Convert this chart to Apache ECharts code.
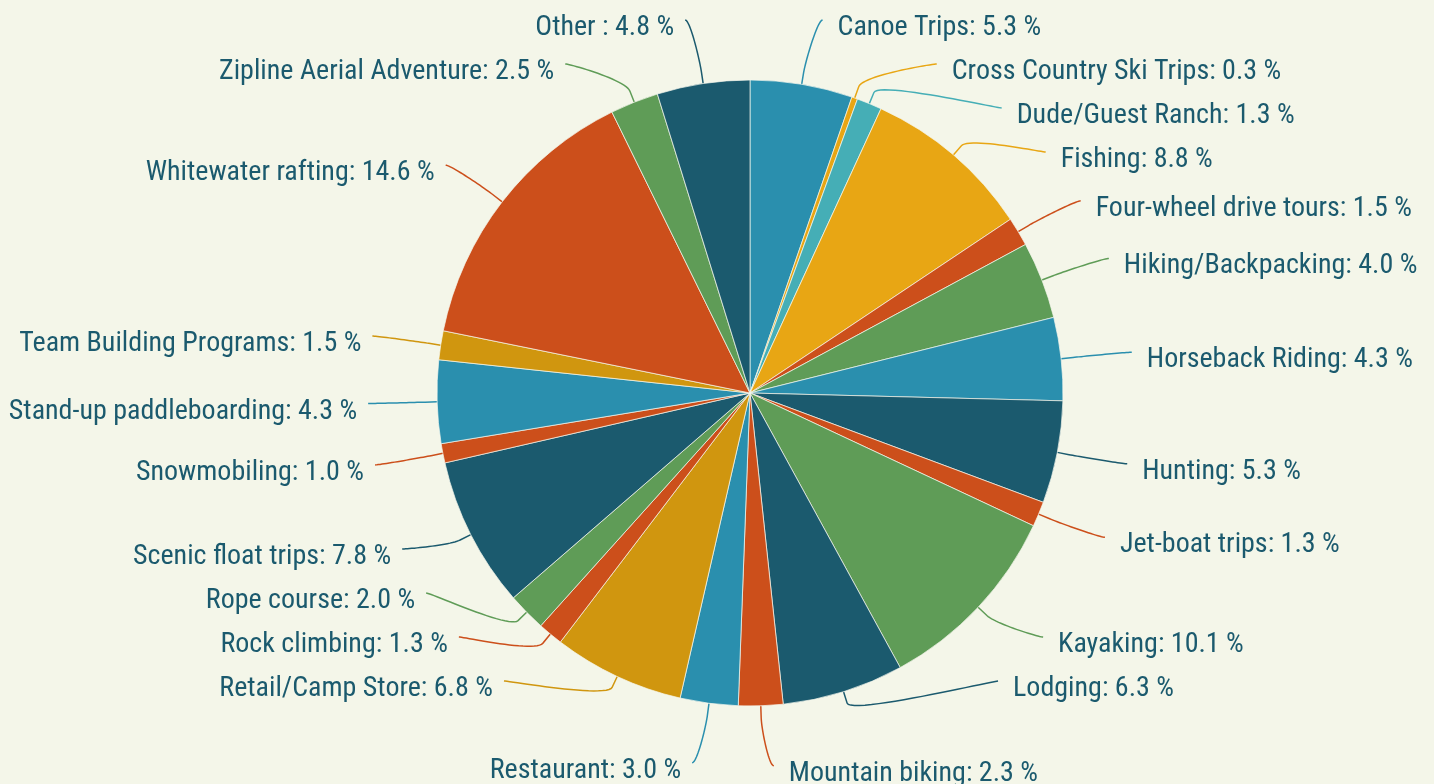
<!DOCTYPE html>
<html>
<head>
<meta charset="utf-8">
<script src="https://cdn.jsdelivr.net/npm/echarts@6/dist/echarts.min.js"></script>
<style>
html,body{margin:0;padding:0;background:#f4f6e9;overflow:hidden;}
#chart{width:1434px;height:784px;}
</style>
</head>
<body>
<div id="chart"></div>
<script>
// ---- data ----
const categories = ["Canoe Trips","Cross Country Ski Trips","Dude/Guest Ranch","Fishing","Four-wheel drive tours","Hiking/Backpacking","Horseback Riding","Hunting","Jet-boat trips","Kayaking","Lodging","Mountain biking","Restaurant","Retail/Camp Store","Rock climbing","Rope course","Scenic float trips","Snowmobiling","Stand-up paddleboarding","Team Building Programs","Whitewater rafting","Zipline Aerial Adventure","Other "];
const values = [5.3,0.3,1.3,8.8,1.5,4.0,4.3,5.3,1.3,10.1,6.3,2.3,3.0,6.8,1.3,2.0,7.8,1.0,4.3,1.5,14.6,2.5,4.8];
const colors = ["#2a8fae","#e8a614","#45aeb6","#e8a614","#cc4f1b","#5f9c57","#2a8fae","#1b5a6e","#cc4f1b","#5f9c57","#1b5a6e","#cc4f1b","#2a8fae","#d0960f","#cc4f1b","#5f9c57","#1b5a6e","#cc4f1b","#2a8fae","#d0960f","#cc4f1b","#5f9c57","#1b5a6e"];

// ---- layout settings ----
const CX = 750, CY = 393, R = 313;      // pie centre and radius (px)
const LABEL_DIST = 60;                  // label ring distance outside the pie
const LR = R + LABEL_DIST;
const BOX = 44;                         // vertical slot per label
const SLOT_TOP = CY - LR - BOX / 2;
const SLOT_BOTTOM = 703;
const BREAK = 12;                       // connector break distance from slice edge
const TEXT_GAP = {right: 26, left: 20};
const LINE_GAP = {right: 11, left: 9};
const TEXT_DY = 8;

// label layout computed from the data angles (slot distribution per side)
const total = values.reduce((a, b) => a + b, 0);
let cum = 0;
const items = values.map((v, i) => {
  const mid = (cum + v / 2) / total;
  cum += v;
  const th = mid * 2 * Math.PI;
  return {i, sin: Math.sin(th), cos: Math.cos(th), right: Math.sin(th) >= 0, natural: CY - LR * Math.cos(th)};
});

function distribute(list) {
  list.sort((a, b) => a.natural - b.natural);
  const last = list[list.length - 1];
  last.y = last.natural;            // lowest label keeps its natural place under the slots
  let boxes = list.slice(0, -1).map(it => ({items: [it], size: BOX, tmin: it.natural, tmax: it.natural}));
  let overlapping = true;
  while (overlapping) {
    boxes.forEach(b => {
      b.pos = Math.min(Math.max((b.tmin + b.tmax) / 2 - b.size / 2, SLOT_TOP), SLOT_BOTTOM - b.size);
    });
    overlapping = false;
    for (let k = boxes.length - 1; k > 0; k--) {
      const a = boxes[k - 1], b = boxes[k];
      if (a.pos + a.size > b.pos) {
        a.items = a.items.concat(b.items);
        a.size += b.size;
        a.tmax = Math.max(a.tmax, b.tmax);
        if (a.pos + a.size > SLOT_BOTTOM) a.pos = SLOT_BOTTOM - a.size;
        boxes.splice(k, 1);
        overlapping = true;
      }
    }
  }
  boxes.forEach(b => b.items.forEach((it, k) => { it.y = b.pos + BOX * k + BOX / 2; }));
}
distribute(items.filter(it => it.right));
distribute(items.filter(it => !it.right));

const layoutByIndex = {};
items.forEach(it => {
  const side = it.right ? 'right' : 'left';
  const dir = it.right ? 1 : -1;
  const yForX = (it.y < CY - LR + 2 || it.y > CY + LR - 2) ? it.natural : it.y;
  const dy = yForX - CY;
  const circ = Math.sqrt(Math.max(LR * LR - dy * dy, 0));
  const textX = CX + dir * (circ + TEXT_GAP[side]);
  const lineX = CX + dir * (circ + LINE_GAP[side]);
  const touch = [CX + R * it.sin, CY - R * it.cos];
  const brk = [CX + (R + BREAK) * it.sin, CY - (R + BREAK) * it.cos];
  const p0 = [lineX, it.y], c1 = [lineX - dir * 5, it.y];
  const c2 = [2 * brk[0] - touch[0], 2 * brk[1] - touch[1]];
  const pts = [];
  for (let s = 0; s <= 24; s++) {
    const t = s / 24, u = 1 - t;
    pts.push([
      u*u*u*p0[0] + 3*u*u*t*c1[0] + 3*u*t*t*c2[0] + t*t*t*brk[0],
      u*u*u*p0[1] + 3*u*u*t*c1[1] + 3*u*t*t*c2[1] + t*t*t*brk[1]
    ]);
  }
  pts.push(touch);
  layoutByIndex[it.i] = {x: textX, y: it.y + TEXT_DY, align: it.right ? 'left' : 'right', verticalAlign: 'middle', labelLinePoints: pts};
});

const chart = echarts.init(document.getElementById('chart'));
chart.setOption({
  backgroundColor: '#f4f6e9',
  animation: false,
  series: [{
    type: 'pie',
    center: [CX, CY],
    radius: [0, R],
    startAngle: 90,
    clockwise: true,
    avoidLabelOverlap: false,
    data: categories.map((c, i) => ({name: c, value: values[i], itemStyle: {color: colors[i]}})),
    itemStyle: {borderColor: '#f7f8ee', borderWidth: 0.7},
    label: {
      formatter: p => p.name + ': ' + p.value.toFixed(1) + ' %',
      color: '#1b5a6e',
      fontSize: 28,
      overflow: 'none',
      fontFamily: '"Roboto Condensed", "Liberation Sans Narrow", "DejaVu Sans Condensed", sans-serif'
    },
    labelLine: {length: 15, length2: 15, smooth: false, lineStyle: {width: 1.5}},
    labelLayout: p => layoutByIndex[p.dataIndex]
  }]
});
</script>
</body>
</html>
